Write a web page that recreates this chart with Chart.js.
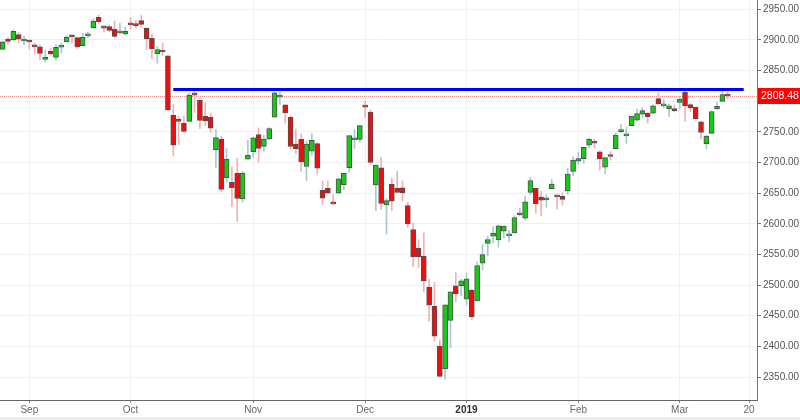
<!DOCTYPE html>
<html>
<head>
<meta charset="utf-8">
<script src="https://cdn.jsdelivr.net/npm/chart.js@4.4.1/dist/chart.umd.min.js"></script>
<style>
  html, body { margin: 0; padding: 0; background: #ebebeb; }
  #wrap { width: 800px; height: 417px; background: #fff; }
</style>
</head>
<body>
<div id="wrap"><canvas id="chart" width="800" height="417"></canvas></div>
<script>
// trading days shown on the chart
const dates = [
  '2018-08-27','2018-08-28','2018-08-29','2018-08-30','2018-08-31',
  '2018-09-04','2018-09-05','2018-09-06','2018-09-07','2018-09-10','2018-09-11','2018-09-12','2018-09-13','2018-09-14',
  '2018-09-17','2018-09-18','2018-09-19','2018-09-20','2018-09-21','2018-09-24','2018-09-25','2018-09-26','2018-09-27','2018-09-28',
  '2018-10-01','2018-10-02','2018-10-03','2018-10-04','2018-10-05','2018-10-08','2018-10-09','2018-10-10','2018-10-11','2018-10-12',
  '2018-10-15','2018-10-16','2018-10-17','2018-10-18','2018-10-19','2018-10-22','2018-10-23','2018-10-24','2018-10-25','2018-10-26',
  '2018-10-29','2018-10-30','2018-10-31',
  '2018-11-01','2018-11-02','2018-11-05','2018-11-06','2018-11-07','2018-11-08','2018-11-09','2018-11-12','2018-11-13','2018-11-14',
  '2018-11-15','2018-11-16','2018-11-19','2018-11-20','2018-11-21','2018-11-23','2018-11-26','2018-11-27','2018-11-28','2018-11-29',
  '2018-11-30',
  '2018-12-03','2018-12-04','2018-12-06','2018-12-07','2018-12-10','2018-12-11','2018-12-12','2018-12-13','2018-12-14','2018-12-17',
  '2018-12-18','2018-12-19','2018-12-20','2018-12-21','2018-12-24','2018-12-26','2018-12-27','2018-12-28','2018-12-31',
  '2019-01-02','2019-01-03','2019-01-04','2019-01-07','2019-01-08','2019-01-09','2019-01-10','2019-01-11','2019-01-14','2019-01-15',
  '2019-01-16','2019-01-17','2019-01-18','2019-01-22','2019-01-23','2019-01-24','2019-01-25','2019-01-28','2019-01-29','2019-01-30',
  '2019-01-31',
  '2019-02-01','2019-02-04','2019-02-05','2019-02-06','2019-02-07','2019-02-08','2019-02-11','2019-02-12','2019-02-13','2019-02-14',
  '2019-02-15','2019-02-19','2019-02-20','2019-02-21','2019-02-22','2019-02-25','2019-02-26','2019-02-27','2019-02-28',
  '2019-03-01','2019-03-04','2019-03-05','2019-03-06','2019-03-07','2019-03-08','2019-03-11','2019-03-12','2019-03-13','2019-03-14'
];
// empty days to the right of the last candle
const futureDates = ['2019-03-15','2019-03-18','2019-03-19','2019-03-20','2019-03-21'];

const open = [
  2884.69, 2901.45, 2900.62, 2908.94, 2898.37, 2896.96, 2891.59, 2888.64, 2868.26, 2881.39,
  2871.57, 2888.29, 2896.85, 2906.38, 2903.83, 2890.74, 2906.60, 2919.73, 2936.76, 2921.83,
  2921.75, 2917.73, 2911.65, 2910.03, 2926.29, 2923.80, 2931.69, 2919.35, 2902.54, 2877.53,
  2882.51, 2873.90, 2776.87, 2770.54, 2763.83, 2767.05, 2813.00, 2802.00, 2775.66, 2773.94,
  2721.03, 2737.87, 2674.88, 2667.86, 2682.65, 2640.68, 2705.60, 2717.58, 2745.45, 2726.37,
  2738.40, 2774.13, 2806.83, 2794.10, 2773.93, 2730.05, 2737.90, 2693.52, 2718.54, 2730.74,
  2654.60, 2657.74, 2633.36, 2649.97, 2663.75, 2691.45, 2736.97, 2737.76, 2790.50, 2782.43,
  2663.51, 2691.26, 2630.86, 2664.44, 2658.23, 2658.70, 2629.68, 2590.75, 2559.90, 2547.05,
  2496.77, 2465.38, 2400.56, 2363.12, 2442.50, 2498.77, 2498.94, 2476.96, 2491.92, 2474.33,
  2535.61, 2568.11, 2580.00, 2573.51, 2588.11, 2580.31, 2585.10, 2614.75, 2609.28, 2651.27,
  2657.88, 2643.48, 2638.84, 2657.44, 2644.97, 2644.89, 2653.62, 2685.49, 2702.32, 2706.49,
  2728.34, 2735.05, 2717.53, 2692.36, 2712.40, 2722.61, 2750.30, 2743.50, 2760.24, 2769.28,
  2779.05, 2780.24, 2780.67, 2804.35, 2792.36, 2787.50, 2788.11, 2798.22, 2814.37, 2794.41,
  2790.27, 2766.53, 2730.79, 2747.61, 2787.34, 2799.78, 2810.38
];
const high = [
  2898.25, 2903.77, 2916.50, 2912.46, 2906.32, 2900.18, 2894.21, 2892.05, 2883.81, 2886.93,
  2892.52, 2894.65, 2906.76, 2908.30, 2904.65, 2911.17, 2912.36, 2934.80, 2940.91, 2923.79,
  2923.95, 2931.15, 2927.22, 2920.53, 2937.06, 2931.42, 2939.86, 2919.78, 2909.64, 2889.45,
  2894.83, 2874.02, 2795.14, 2775.77, 2775.99, 2813.46, 2816.94, 2806.04, 2797.77, 2778.94,
  2753.59, 2742.59, 2722.70, 2692.38, 2706.85, 2685.43, 2736.69, 2741.67, 2756.55, 2744.27,
  2756.82, 2815.15, 2814.75, 2794.10, 2775.99, 2754.60, 2746.80, 2735.38, 2746.75, 2733.16,
  2669.44, 2670.73, 2647.55, 2674.35, 2682.53, 2744.00, 2753.75, 2760.88, 2800.18, 2785.93,
  2696.15, 2708.54, 2641.34, 2674.35, 2685.44, 2670.19, 2635.07, 2601.13, 2573.99, 2585.29,
  2509.63, 2504.41, 2410.34, 2467.76, 2489.10, 2520.27, 2509.24, 2519.49, 2493.14, 2538.07,
  2566.16, 2579.82, 2595.32, 2597.82, 2596.27, 2589.32, 2613.08, 2625.76, 2645.06, 2675.47,
  2657.88, 2653.19, 2647.20, 2672.38, 2644.97, 2650.93, 2690.44, 2708.95, 2716.66, 2724.99,
  2738.98, 2738.08, 2719.32, 2708.07, 2718.05, 2748.19, 2761.85, 2757.90, 2775.66, 2787.33,
  2789.88, 2781.58, 2794.20, 2813.49, 2803.12, 2795.76, 2793.73, 2808.02, 2816.88, 2796.44,
  2790.27, 2767.25, 2744.13, 2784.00, 2798.32, 2821.24, 2815.00
];
const low = [
  2884.69, 2893.50, 2898.40, 2895.22, 2891.73, 2885.13, 2876.92, 2867.29, 2864.12, 2875.94,
  2866.78, 2879.20, 2896.39, 2895.77, 2886.16, 2890.43, 2903.82, 2919.73, 2927.11, 2912.63,
  2913.70, 2903.28, 2909.27, 2907.50, 2917.91, 2919.37, 2921.36, 2883.92, 2869.29, 2862.08,
  2874.27, 2784.86, 2710.51, 2729.44, 2749.03, 2766.91, 2781.81, 2755.18, 2760.27, 2749.22,
  2691.43, 2651.89, 2667.84, 2628.16, 2603.54, 2635.34, 2705.60, 2708.85, 2700.44, 2717.94,
  2737.08, 2774.13, 2794.99, 2764.24, 2722.00, 2714.98, 2685.75, 2670.75, 2712.16, 2681.09,
  2631.52, 2649.82, 2631.09, 2649.97, 2655.89, 2684.38, 2722.94, 2732.76, 2773.38, 2697.18,
  2621.53, 2623.14, 2583.23, 2621.30, 2650.26, 2637.27, 2593.84, 2530.54, 2528.71, 2488.96,
  2441.18, 2408.55, 2351.10, 2346.58, 2397.94, 2472.89, 2482.82, 2467.47, 2443.96, 2474.33,
  2524.56, 2547.56, 2568.89, 2562.02, 2577.40, 2570.41, 2585.10, 2612.68, 2606.36, 2647.58,
  2617.27, 2612.86, 2627.01, 2657.33, 2624.06, 2631.05, 2648.34, 2678.65, 2696.88, 2698.75,
  2724.03, 2724.15, 2687.26, 2681.83, 2703.79, 2722.61, 2748.63, 2731.23, 2760.24, 2767.29,
  2774.06, 2764.55, 2779.11, 2794.99, 2789.47, 2775.13, 2782.51, 2787.38, 2767.66, 2782.97,
  2768.69, 2739.09, 2722.27, 2747.61, 2786.73, 2799.78, 2803.46
];
const close = [
  2896.74, 2897.52, 2914.04, 2901.13, 2901.52, 2896.72, 2888.60, 2878.05, 2871.68, 2877.13,
  2887.89, 2888.92, 2904.18, 2904.98, 2888.80, 2904.31, 2907.95, 2930.75, 2929.67, 2919.37,
  2915.56, 2905.97, 2914.00, 2913.98, 2924.59, 2923.43, 2925.51, 2901.61, 2885.57, 2884.43,
  2880.34, 2785.68, 2728.37, 2767.13, 2750.79, 2809.92, 2810.00, 2768.78, 2767.78, 2755.88,
  2740.69, 2656.10, 2705.57, 2658.69, 2641.25, 2682.63, 2711.74, 2740.37, 2723.06, 2738.31,
  2755.45, 2813.89, 2806.83, 2781.01, 2726.22, 2722.18, 2701.58, 2730.20, 2736.27, 2690.73,
  2641.89, 2649.93, 2632.56, 2673.45, 2682.17, 2743.79, 2737.80, 2760.17, 2790.37, 2700.06,
  2695.95, 2633.08, 2637.72, 2636.78, 2651.07, 2650.54, 2599.95, 2545.94, 2546.16, 2506.96,
  2467.42, 2416.62, 2351.10, 2467.70, 2488.83, 2485.74, 2506.85, 2510.03, 2447.89, 2531.94,
  2549.69, 2574.41, 2584.96, 2596.64, 2596.26, 2582.61, 2610.30, 2616.10, 2635.96, 2670.71,
  2632.90, 2638.70, 2642.33, 2664.76, 2643.85, 2640.00, 2681.05, 2704.10, 2706.53, 2724.87,
  2737.70, 2731.61, 2706.05, 2707.88, 2709.80, 2744.73, 2753.03, 2745.73, 2775.60, 2779.76,
  2784.70, 2774.88, 2792.67, 2796.11, 2793.90, 2792.38, 2784.49, 2803.69, 2792.81, 2789.65,
  2771.45, 2748.93, 2743.07, 2783.30, 2791.52, 2810.92, 2808.48
];

// x axis labels (first trading day of each month)
const tickText = {
  '2018-09-04': 'Sep', '2018-10-01': 'Oct', '2018-11-01': 'Nov', '2018-12-03': 'Dec',
  '2019-01-02': '2019', '2019-02-01': 'Feb', '2019-03-01': 'Mar', '2019-03-20': '20'
};

// blue resistance line
const resistance = 2819;
const resistanceFrom = '2018-10-11';
const resistanceTo = '2019-03-19';

const labels = dates.concat(futureDates);
const up = close.map((c, i) => c >= open[i]);
const font = 'Arial, "Liberation Sans", sans-serif';

const lastPrice = {
  id: 'lastPrice',
  beforeDatasetsDraw(chart) {
    const { ctx, chartArea, scales } = chart;
    const y = Math.round(scales.y.getPixelForValue(close[close.length - 1])) + 0.5;
    ctx.save();
    ctx.strokeStyle = '#f28a8a';
    ctx.lineWidth = 1;
    ctx.setLineDash([1, 1]);
    ctx.beginPath();
    ctx.moveTo(chartArea.left, y);
    ctx.lineTo(chartArea.right, y);
    ctx.stroke();
    ctx.restore();
  },
  afterDraw(chart) {
    const { ctx, chartArea, scales } = chart;
    const last = close[close.length - 1];
    const y = Math.round(scales.y.getPixelForValue(last));
    ctx.save();
    ctx.fillStyle = '#ff0000';
    ctx.fillRect(chartArea.right + 1, y - 8, chart.width - chartArea.right - 1, 16);
    ctx.fillStyle = '#ffffff';
    ctx.font = '10.5px ' + font;
    ctx.textBaseline = 'middle';
    ctx.fillText(last.toFixed(2), chartArea.right + 4, y + 0.5);
    ctx.restore();
  }
};

new Chart(document.getElementById('chart'), {
  type: 'bar',
  data: {
    labels: labels,
    datasets: [
      {
        type: 'line',
        data: [{ x: resistanceFrom, y: resistance }, { x: resistanceTo, y: resistance }],
        borderColor: '#0000ff',
        borderWidth: 3,
        pointRadius: 0,
        order: 0
      },
      {
        data: open.map((o, i) => [o, close[i]]),
        backgroundColor: up.map(u => u ? '#18c918' : '#ea1010'),
        borderColor: '#505050',
        borderWidth: 1,
        borderSkipped: false,
        barThickness: 5,
        minBarLength: 2,
        grouped: false,
        order: 1
      },
      {
        data: low.map((l, i) => [l, high[i]]),
        backgroundColor: up.map(u => u ? '#a6c9d6' : '#f4b0b0'),
        barThickness: 1,
        grouped: false,
        order: 2
      }
    ]
  },
  options: {
    responsive: false,
    animation: false,
    devicePixelRatio: 1,
    layout: { padding: 0 },
    plugins: { legend: { display: false }, tooltip: { enabled: false } },
    scales: {
      x: {
        offset: true,
        grid: { offset: false, color: '#f0f0f0', tickColor: '#888', tickLength: 3 },
        border: { color: '#666' },
        ticks: {
          autoSkip: false,
          maxRotation: 0,
          padding: 1,
          color: ctx => ctx.tick && ctx.tick.label === '2019' ? '#333' : '#666',
          font: ctx => ({ family: font, size: 10, weight: ctx.tick && ctx.tick.label === '2019' ? 'bold' : 'normal' }),
          callback: v => tickText[labels[v]]
        },
        afterBuildTicks: axis => {
          axis.ticks = axis.ticks.filter(t => tickText[labels[t.value]]);
        },
        afterFit: axis => {
          axis.height = 17;
          axis.paddingLeft = 0;
          axis.paddingRight = 0;
        }
      },
      y: {
        position: 'right',
        min: 2312.5,
        max: 2965.2,
        grid: { color: '#f0f0f0', tickColor: '#777', tickLength: 4 },
        border: { color: '#777' },
        ticks: {
          stepSize: 50,
          includeBounds: false,
          padding: 2,
          color: '#555',
          font: { family: font, size: 10 },
          callback: v => v.toFixed(2)
        },
        afterFit: axis => {
          axis.width = 43;
          axis.paddingTop = 0;
          axis.paddingBottom = 0;
        }
      }
    }
  },
  plugins: [lastPrice]
});
</script>
</body>
</html>
